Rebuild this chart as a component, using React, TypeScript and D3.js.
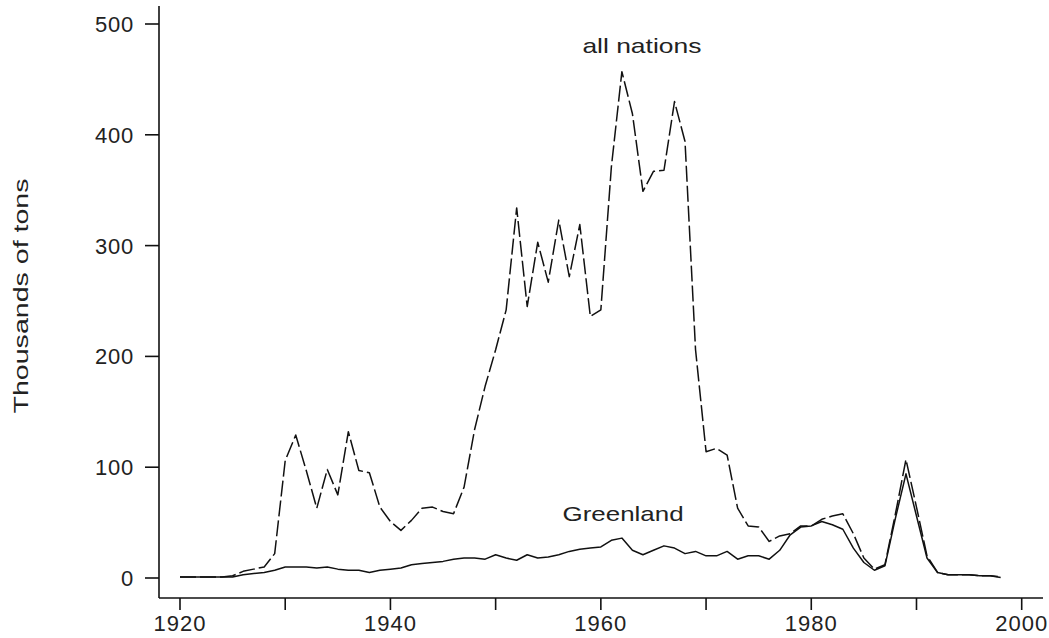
import React from "react";
import * as d3 from "d3";

const years: number[] = d3.range(1920, 1999);
const allNations: number[] = [
  1, 1, 1, 1, 1, 2, 6, 8, 10, 22,
  106, 129, 97, 63, 98, 75, 132, 97, 95, 64,
  51, 43, 52, 63, 64, 60, 58, 82, 134, 173,
  206, 242, 334, 245, 303, 267, 323, 272, 319, 236,
  242, 371, 457, 419, 349, 367, 368, 430, 394, 206,
  114, 117, 111, 63, 47, 46, 33, 38, 40, 47,
  47, 53, 56, 58, 40, 18, 8, 12, 58, 107,
  64, 20, 5, 3, 3, 3, 2, 2, 1,
];
const greenland: number[] = [
  1, 1, 1, 1, 1, 1, 3, 4, 5, 7,
  10, 10, 10, 9, 10, 8, 7, 7, 5, 7,
  8, 9, 12, 13, 14, 15, 17, 18, 18, 17,
  21, 18, 16, 21, 18, 19, 21, 24, 26, 27,
  28, 34, 36, 25, 21, 25, 29, 27, 22, 24,
  20, 20, 24, 17, 20, 20, 17, 25, 39, 46,
  47, 51, 48, 44, 27, 14, 7, 11, 54, 94,
  56, 18, 5, 3, 3, 3, 2, 2, 0.5,
];
const yTicks: number[] = [0, 100, 200, 300, 400, 500];
const xTicks: number[] = [1920, 1930, 1940, 1950, 1960, 1970, 1980, 1990, 2000];
const xLabels: number[] = [1920, 1940, 1960, 1980, 2000];
const yTitle = "Thousands of tons";
const labelAll = { text: "all nations", year: 1962, value: 480 };
const labelGreen = { text: "Greenland", year: 1962.3, value: 52 };

export default function App() {
  const W = 1049, H = 638;
  const x = d3.scaleLinear().domain([1920, 2000]).range([180, 1021.7]);
  const y = d3.scaleLinear().domain([0, 500]).range([578, 24]);
  const axX = 159, axY = 598;
  const line = d3.line<number>().x((_, i) => x(years[i])).y((v) => y(v));
  const font = "'Liberation Sans', Arial, sans-serif";
  const col = "#111";
  return (
    <svg width={W} height={H} style={{ position: "absolute", left: 0, top: 0, background: "#fff" }}>
      <rect width={W} height={H} fill="#fff" />
      <line x1={axX} y1={6} x2={axX} y2={axY} stroke={col} strokeWidth={1.6} />
      <line x1={axX} y1={axY} x2={1043} y2={axY} stroke={col} strokeWidth={1.6} />
      {yTicks.map((t) => (
        <g key={"y" + t}>
          <line x1={145} x2={axX} y1={y(t)} y2={y(t)} stroke={col} strokeWidth={1.6} />
          <text x={134} y={y(t)} dy="0.36em" textAnchor="end" fontFamily={font} fontSize={22} fill="#222" letterSpacing={0.8}>
            {t}
          </text>
        </g>
      ))}
      {xTicks.map((t) => (
        <line key={"x" + t} x1={x(t)} x2={x(t)} y1={axY} y2={610} stroke={col} strokeWidth={1.6} />
      ))}
      {xLabels.map((t) => (
        <text key={"xl" + t} x={x(t)} y={631} textAnchor="middle" fontFamily={font} fontSize={22} fill="#222" letterSpacing={1}>
          {t}
        </text>
      ))}
      <text
        transform={`translate(28,296) rotate(-90)`}
        textAnchor="middle"
        fontFamily={font}
        fontSize={20}
        fill="#222"
        textLength={235}
        lengthAdjust="spacingAndGlyphs"
      >
        {yTitle}
      </text>
      <path d={line(greenland) || ""} fill="none" stroke={col} strokeWidth={1.5} strokeLinejoin="round" />
      <path d={line(allNations) || ""} fill="none" stroke={col} strokeWidth={1.5} strokeDasharray="16,4" strokeLinejoin="round" />
      <text x={x(labelAll.year) + 20} y={53} textAnchor="middle" fontFamily={font} fontSize={21} fill="#222" textLength={119} lengthAdjust="spacingAndGlyphs">
        {labelAll.text}
      </text>
      <text x={x(labelGreen.year) - 2} y={521} textAnchor="middle" fontFamily={font} fontSize={21} fill="#222" textLength={121} lengthAdjust="spacingAndGlyphs">
        {labelGreen.text}
      </text>
    </svg>
  );
}
